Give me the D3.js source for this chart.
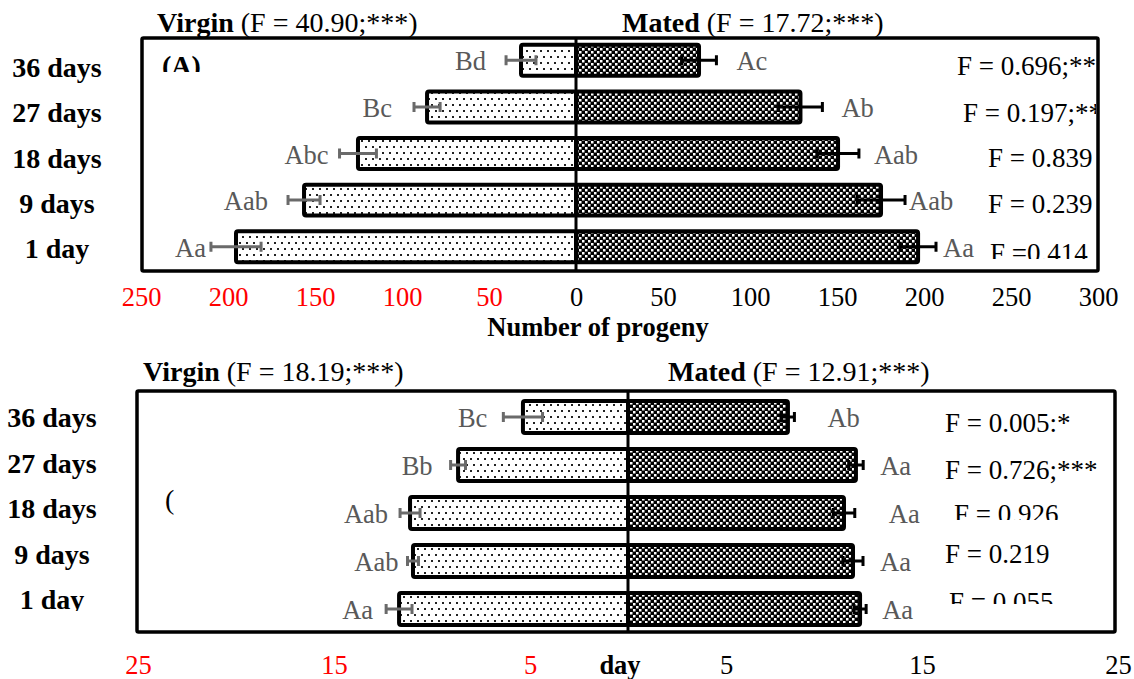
<!DOCTYPE html>
<html><head><meta charset="utf-8">
<script src="https://cdn.jsdelivr.net/npm/d3@7"></script>
<style>
body{margin:0;background:#fff}
svg{display:block;font-family:"Liberation Serif","Times New Roman",serif}
svg text{font-family:"Liberation Serif","Times New Roman",serif !important}
text{white-space:pre}
</style>
</head><body>
<svg id="c" width="1134" height="679"></svg>
<script>
// ---------------- DATA ----------------
const categories = ["36 days","27 days","18 days","9 days","1 day"];

// Panel A: number of progeny
const progenyVirgin      = [31.6, 85.6, 125.3, 156.3, 195.4];
const progenyVirginErr   = [8.6, 7.5, 10.6, 9.2, 14.4];
const progenyMated       = [70.7, 129.0, 150.6, 175.3, 196.6];
const progenyMatedErr    = [10.0, 12.6, 12.0, 13.8, 10.3];
const progenyVirginLetters = ["Bd","Bc","Abc","Aab","Aa"];
const progenyMatedLetters  = ["Ac","Ab","Aab","Aab","Aa"];
const progenyF = ["F = 0.696;**","F = 0.197;**","F = 0.839","F = 0.239","F =0.414"];
const progenyTicks = [-250,-200,-150,-100,-50,0,50,100,150,200,250,300];
const progenyTitles = {virgin:"(F = 40.90;***)", mated:"(F = 17.72;***)"};

// Panel B: days
const dayVirgin      = [5.36, 8.67, 11.12, 10.97, 11.68];
const dayVirginErr   = [1.0, 0.38, 0.51, 0.28, 0.66];
const dayMated       = [8.16, 11.63, 11.02, 11.48, 11.84];
const dayMatedErr    = [0.33, 0.37, 0.55, 0.51, 0.31];
const dayVirginLetters = ["Bc","Bb","Aab","Aab","Aa"];
const dayMatedLetters  = ["Ab","Aa","Aa","Aa","Aa"];
const dayF = ["F = 0.005:*","F = 0.726;***","F = 0.926","F = 0.219","F = 0.055"];
const dayTicks = [-25,-15,-5,5,15,25];
const dayTitles = {virgin:"(F = 18.19;***)", mated:"(F = 12.91;***)"};

// ---------------- LAYOUT ----------------
const svg = d3.select("#c");
const defs = svg.append("defs");

const pv = defs.append("pattern").attr("id","pv").attr("patternUnits","userSpaceOnUse")
  .attr("width",7).attr("height",12);
pv.append("rect").attr("width",7).attr("height",12).attr("fill","#fff");
pv.append("rect").attr("x",1).attr("y",2).attr("width",2).attr("height",2).attr("fill","#222");
pv.append("rect").attr("x",4).attr("y",8).attr("width",2).attr("height",2).attr("fill","#222");

const pm = defs.append("pattern").attr("id","pm").attr("patternUnits","userSpaceOnUse")
  .attr("width",6).attr("height",6);
pm.append("rect").attr("width",6).attr("height",6).attr("fill","#000");
pm.append("rect").attr("x",0).attr("y",0).attr("width",2.5).attr("height",2.5).attr("fill","#fff");
pm.append("rect").attr("x",3).attr("y",3).attr("width",2.5).attr("height",2.5).attr("fill","#fff");

let clipN = 0;
function clipRect(x0,y0,x1,y1){
  const id = "cl"+(clipN++);
  defs.append("clipPath").attr("id",id).append("rect")
    .attr("x",x0).attr("y",y0).attr("width",x1-x0).attr("height",y1-y0);
  return "url(#"+id+")";
}

const panels = [
  {
    virgin: progenyVirgin, virginErr: progenyVirginErr, mated: progenyMated, matedErr: progenyMatedErr,
    vLetters: progenyVirginLetters, mLetters: progenyMatedLetters, fTexts: progenyF,
    ticks: progenyTicks, titles: progenyTitles,
    domain:[-250,300], xRange:[141,1098], yRange:[37,270], box:[142,38,1098,271],
    catX:57, catRange:[77,258], catClip:null,
    axisY:306, axisTitle:{text:"Number of progeny", x:598, y:336},
    titleY:32, vTitleX:157, mTitleX:622,
    fX:[957,963,988,988,990], fY:[75,122,167,213,262],
    fClip:[{r:1096},{r:1096},null,null,{b:259}],
    vGap:[20,22,11,20,5], mGap:[20,19,15,4,7],
    label:{text:"(A)", x:162, y:75, bold:true, clipB:72}
  },
  {
    virgin: dayVirgin, virginErr: dayVirginErr, mated: dayMated, matedErr: dayMatedErr,
    vLetters: dayVirginLetters, mLetters: dayMatedLetters, fTexts: dayF,
    ticks: dayTicks, titles: dayTitles,
    domain:[-25,25], xRange:[138,1118], yRange:[393,633], box:[137,391,1115,632],
    catX:52, catRange:[427,609], catClip:611,
    axisY:674, axisTitle:{text:"day", x:620, y:674},
    titleY:381, vTitleX:143, mTitleX:668,
    fX:[945,945,954,945,949], fY:[432,479,523,563,611],
    fClip:[null,null,{b:520},null,{b:604}],
    vGap:[16,18,12,9,13], mGap:[33,17,34,17,16],
    label:{text:"(", x:165, y:509, bold:false, clipB:null}
  }
];

panels.forEach(c => {
  const x = d3.scaleLinear().domain(c.domain).range(c.xRange);
  const y = d3.scaleBand().domain(categories).range(c.yRange).paddingInner(0.25).paddingOuter(0.125);
  const cat = d3.scalePoint().domain(categories).range(c.catRange);
  const bw = y.bandwidth(), sw = 4;
  const g = svg.append("g");
  const cy = d => y(d) + bw/2;

  // frame
  g.append("rect").attr("x",c.box[0]).attr("y",c.box[1])
    .attr("width",c.box[2]-c.box[0]).attr("height",c.box[3]-c.box[1])
    .attr("fill","none").attr("stroke","#000").attr("stroke-width",3.5).attr("rx",1.5);

  // bars
  g.selectAll(".bv").data(categories).join("rect").attr("class","bv")
    .attr("x",(d,i)=>x(-c.virgin[i])).attr("y",d=>y(d)+sw/2)
    .attr("width",(d,i)=>x(0)-x(-c.virgin[i])).attr("height",bw-sw)
    .attr("fill","url(#pv)").attr("stroke","#000").attr("stroke-width",sw).attr("rx",2);
  g.selectAll(".bm").data(categories).join("rect").attr("class","bm")
    .attr("x",x(0)).attr("y",d=>y(d)+sw/2)
    .attr("width",(d,i)=>x(c.mated[i])-x(0)).attr("height",bw-sw)
    .attr("fill","url(#pm)").attr("stroke","#000").attr("stroke-width",sw).attr("rx",2);

  // error bars
  const ePath = (a,b,yc) => `M${a},${yc}H${b}M${a},${yc-5}V${yc+5}M${b},${yc-5}V${yc+5}`;
  g.selectAll(".ev").data(categories).join("path").attr("class","ev")
    .attr("d",(d,i)=>ePath(x(-(c.virgin[i]+c.virginErr[i])), x(-(c.virgin[i]-c.virginErr[i])), cy(d)))
    .attr("fill","none").attr("stroke","#6a6a6a").attr("stroke-width",3);
  g.selectAll(".em").data(categories).join("path").attr("class","em")
    .attr("d",(d,i)=>ePath(x(c.mated[i]-c.matedErr[i]), x(c.mated[i]+c.matedErr[i]), cy(d)))
    .attr("fill","none").attr("stroke","#000").attr("stroke-width",3);

  // centre line
  g.append("line").attr("x1",x(0)).attr("x2",x(0)).attr("y1",c.box[1]).attr("y2",c.box[3])
    .attr("stroke","#000").attr("stroke-width",3);

  // letters
  g.selectAll(".lv").data(categories).join("text").attr("class","lv")
    .attr("x",(d,i)=>x(-(c.virgin[i]+c.virginErr[i]))-c.vGap[i]).attr("y",d=>cy(d)+10)
    .attr("text-anchor","end").attr("font-size",26.5).attr("fill","#595959")
    .text((d,i)=>c.vLetters[i]);
  g.selectAll(".lm").data(categories).join("text").attr("class","lm")
    .attr("x",(d,i)=>x(c.mated[i]+c.matedErr[i])+c.mGap[i]).attr("y",d=>cy(d)+10)
    .attr("text-anchor","start").attr("font-size",26.5).attr("fill","#595959")
    .text((d,i)=>c.mLetters[i]);

  // F values per row
  c.fTexts.forEach((t,i)=>{
    const tx = g.append("text").attr("x",c.fX[i]).attr("y",c.fY[i])
      .attr("font-size",27).attr("fill","#000").text(t);
    const cl = c.fClip[i];
    if (cl) tx.attr("clip-path", clipRect(c.fX[i]-10, c.fY[i]-40, cl.r || 1134, cl.b || 679));
  });

  // category labels
  const cl = g.selectAll(".cat").data(categories).join("text").attr("class","cat")
    .attr("x",c.catX).attr("y",d=>cat(d)).attr("text-anchor","middle")
    .attr("font-size",28).attr("font-weight","bold").text(d=>d);
  if (c.catClip) cl.filter((d,i)=>i===categories.length-1)
    .attr("clip-path", clipRect(0, c.catClip-40, 140, c.catClip));

  // axis labels
  const ax = g.append("g").attr("transform",`translate(0,${c.axisY})`)
    .call(d3.axisBottom(x).tickValues(c.ticks).tickFormat(d=>String(Math.abs(d))).tickSize(0));
  ax.attr("font-family","Liberation Serif").attr("font-size",26.5);
  ax.select(".domain").remove();
  ax.selectAll("text").attr("y",0).attr("dy",null)
    .attr("font-family","Liberation Serif").attr("font-size",26.5)
    .attr("fill",d=>d<0?"#ff0000":"#000");
  g.append("text").attr("x",c.axisTitle.x).attr("y",c.axisTitle.y).attr("text-anchor","middle")
    .attr("font-size",26.5).attr("font-weight","bold").text(c.axisTitle.text);

  // titles
  const tv = g.append("text").attr("x",c.vTitleX).attr("y",c.titleY).attr("font-size",28);
  tv.append("tspan").attr("font-weight","bold").text("Virgin");
  tv.append("tspan").text(" "+c.titles.virgin);
  const tm = g.append("text").attr("x",c.mTitleX).attr("y",c.titleY).attr("font-size",28);
  tm.append("tspan").attr("font-weight","bold").text("Mated");
  tm.append("tspan").text(" "+c.titles.mated);

  // panel label
  const pl = g.append("text").attr("x",c.label.x).attr("y",c.label.y).attr("font-size",28)
    .attr("font-weight",c.label.bold?"bold":"normal").text(c.label.text);
  if (c.label.clipB) pl.attr("clip-path", clipRect(c.label.x-5, c.label.y-40, c.label.x+60, c.label.clipB));
});
</script>
</body></html>
